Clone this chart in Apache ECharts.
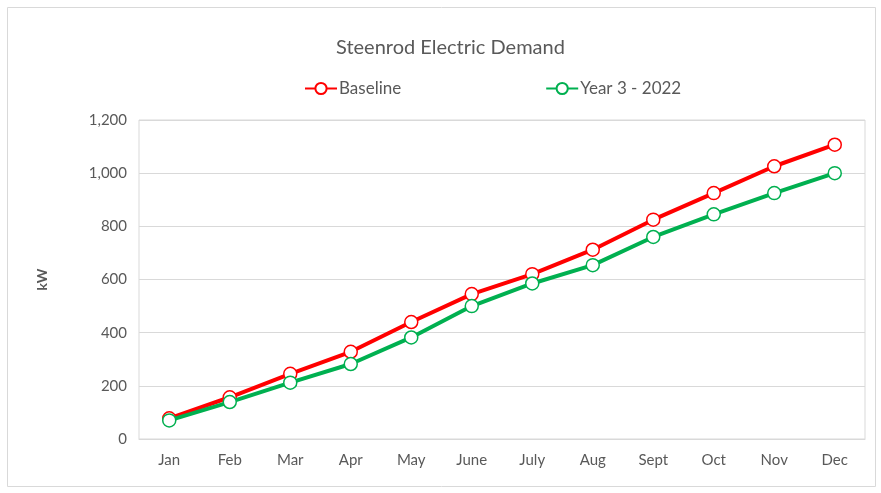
<!DOCTYPE html>
<html><head><meta charset="utf-8">
<script src="https://cdn.jsdelivr.net/npm/echarts@6/dist/echarts.min.js"></script>
<style>html,body{margin:0;padding:0;background:#fff}#c{width:881px;height:493px}</style>
</head><body><div id="c"></div>
<script>
const months = ['Jan','Feb','Mar','Apr','May','June','July','Aug','Sept','Oct','Nov','Dec'];
const baseline = [78, 157, 245, 328, 440, 545, 620, 712, 825, 925, 1026, 1107];
const year3 = [70, 139, 212, 282, 382, 500, 585, 654, 760, 845, 925, 1000];
const yTicks = [0, 200, 400, 600, 800, 1000, 1200];

const chart = echarts.init(document.getElementById('c'));
const FONT = 'Lato, "Open Sans", sans-serif';
const gray = '#595959';
function mk(name, data, color) {
  return {
    name, type: 'line', data,
    symbol: 'circle', symbolSize: 13,
    lineStyle: { color, width: 4 },
    itemStyle: { color: '#fff', borderColor: color, borderWidth: 1.5 },
    emphasis: { disabled: true },
    z: name === 'Baseline' ? 2 : 3
  };
}
chart.setOption({
  animation: false,
  textStyle: { fontFamily: FONT },
  graphic: [{ type: 'rect', shape: { x: 7.5, y: 7.5, width: 868, height: 479 }, style: { fill: 'none', stroke: '#d9d9d9', lineWidth: 1 }, z: -1 }],
  title: { text: 'Steenrod Electric Demand', left: 331, top: 33,
    textStyle: { fontFamily: FONT, fontSize: 20, fontWeight: 'normal', color: gray } },
  legend: { top: 75, left: 299, itemGap: 144, itemWidth: 32, itemHeight: 14,
    textStyle: { fontFamily: FONT, fontSize: 17, color: gray, padding: [0, 0, 0, -3] },
    data: ['Baseline', 'Year 3 - 2022'] },
  grid: { left: 139, right: 16, top: 120, bottom: 54, show: true, borderColor: '#d9d9d9', borderWidth: 1 },
  xAxis: { type: 'category', data: months, boundaryGap: true,
    axisLine: { lineStyle: { color: '#d9d9d9' } }, axisTick: { show: false },
    axisLabel: { color: gray, fontSize: 15, margin: 14, fontFamily: FONT } },
  yAxis: { type: 'value', min: yTicks[0], max: yTicks[yTicks.length - 1], interval: 200,
    name: 'kW', nameLocation: 'middle', nameGap: 90, nameRotate: 90,
    nameTextStyle: { color: gray, fontSize: 14, fontWeight: 'bold', fontFamily: FONT },
    axisLine: { show: false }, axisTick: { show: false },
    splitLine: { lineStyle: { color: '#d9d9d9', width: 1 } },
    axisLabel: { color: gray, fontSize: 15, margin: 12, fontFamily: FONT,
      formatter: v => v.toLocaleString('en-US') } },
  series: [mk('Baseline', baseline, '#FF0000'), mk('Year 3 - 2022', year3, '#00B050')]
});
</script></body></html>
